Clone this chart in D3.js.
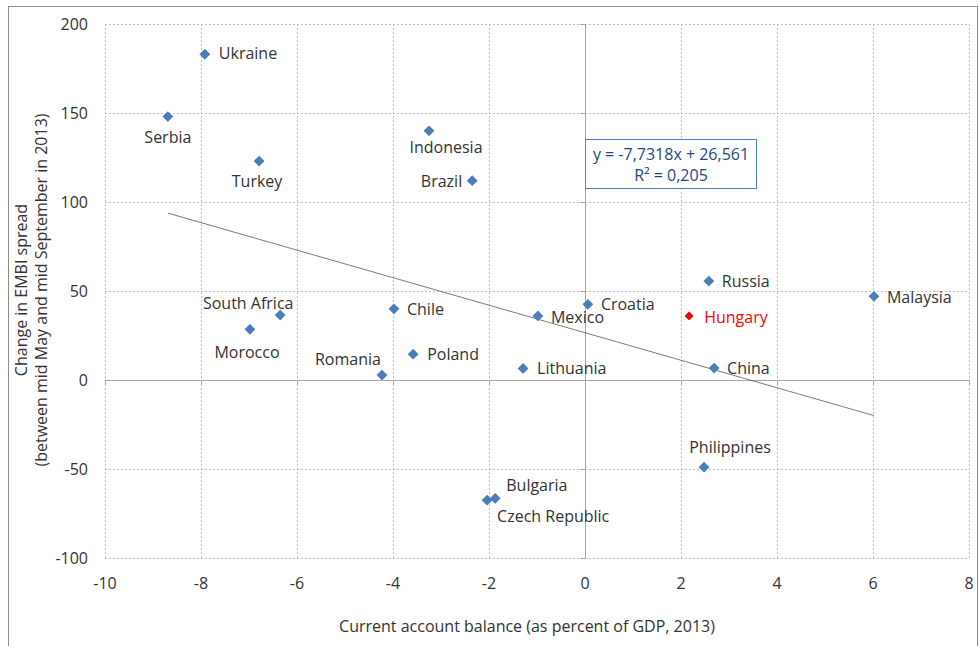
<!DOCTYPE html>
<html>
<head>
<meta charset="utf-8">
<script src="https://cdn.jsdelivr.net/npm/d3@7"></script>
<style>
  body { margin: 0; background: #fff; }
  text { font-family: "Open Sans", "Liberation Sans", sans-serif; fill: #333; }
</style>
</head>
<body>
<svg id="chart" width="979" height="646"></svg>
<script>
// data
var countries = ['Ukraine', 'Serbia', 'Turkey', 'Indonesia', 'Brazil', 'South Africa', 'Morocco',
  'Chile', 'Poland', 'Romania', 'Lithuania', 'Mexico', 'Croatia', 'Russia', 'Hungary',
  'Malaysia', 'China', 'Philippines', 'Bulgaria', 'Czech Republic'];
var currentAccount = [-7.92, -8.69, -6.79, -3.25, -2.35, -6.35, -6.98,
  -3.98, -3.58, -4.23, -1.29, -0.98, 0.06, 2.58, 2.17,
  6.02, 2.69, 2.48, -1.87, -2.04];
var spreadChange = [183, 148, 123, 140, 112, 36.5, 28.5,
  40, 14.5, 2.8, 6.5, 36, 42.5, 55.6, 36,
  47, 6.7, -49, -66.5, -67.5];
var highlighted = ['Hungary'];

var xTicks = [-10, -8, -6, -4, -2, 0, 2, 4, 6, 8];
var yTicks = [-100, -50, 0, 50, 100, 150, 200];

var trendSlope = -7.7318;
var trendIntercept = 26.561;
var trendRange = [-8.69, 6.02];
var rSquared = 0.205;

// label placement relative to marker (dx, dy, anchor)
var labelPos = {
  'Ukraine': [14, 0, 'start'],
  'Serbia': [0, 21, 'middle'],
  'Turkey': [-2, 21, 'middle'],
  'Indonesia': [17, 17, 'middle'],
  'Brazil': [-10, 1, 'end'],
  'South Africa': [-32, -11, 'middle'],
  'Morocco': [-3, 24, 'middle'],
  'Chile': [13, 1, 'start'],
  'Poland': [14, 1, 'start'],
  'Romania': [-34, -15, 'middle'],
  'Lithuania': [14, 1, 'start'],
  'Mexico': [13, 2, 'start'],
  'Croatia': [13, 1, 'start'],
  'Russia': [13, 1, 'start'],
  'Hungary': [15, 2, 'start'],
  'Malaysia': [13, 2, 'start'],
  'China': [13, 1, 'start'],
  'Philippines': [26, -19, 'middle'],
  'Bulgaria': [11, -12, 'start'],
  'Czech Republic': [10, 17, 'start']
};

var fmt = function (v, d) { return v.toFixed(d).replace('.', ','); };

var svg = d3.select('#chart');
var margin = { left: 105, right: 10, top: 24, bottom: 88 };
var width = 969 - margin.left;
var height = 558 - margin.top;

// outer frame
svg.append('rect')
  .attr('x', 8.5).attr('y', 6.5).attr('width', 969).attr('height', 660)
  .attr('fill', 'none').attr('stroke', '#8c8c8c').attr('stroke-width', 1);

var g = svg.append('g').attr('transform', 'translate(' + margin.left + ',' + margin.top + ')');

var x = d3.scaleLinear().domain([-10, 8]).range([0, width]);
var y = d3.scaleLinear().domain([-100, 200]).range([height, 0]);

// dashed grid
g.append('g')
  .selectAll('line.vg').data(xTicks).join('line')
  .attr('x1', function (d) { return Math.round(x(d)) + 0.5; })
  .attr('x2', function (d) { return Math.round(x(d)) + 0.5; })
  .attr('y1', 0).attr('y2', height)
  .attr('stroke', '#bfbfbf').attr('stroke-dasharray', '2,2');
g.append('g')
  .selectAll('line.hg').data(yTicks).join('line')
  .attr('y1', function (d) { return Math.round(y(d)) + 0.5; })
  .attr('y2', function (d) { return Math.round(y(d)) + 0.5; })
  .attr('x1', 0).attr('x2', width)
  .attr('stroke', '#bfbfbf').attr('stroke-dasharray', '2,2');

// zero axes
var xAxis = d3.axisBottom(x).tickValues(xTicks).tickSize(5).tickFormat('');
var gx = g.append('g').attr('transform', 'translate(0,' + Math.round(y(0)) + ')').call(xAxis);
var yAxis = d3.axisLeft(y).tickValues(yTicks).tickSize(5).tickFormat('');
var gy = g.append('g').attr('transform', 'translate(' + Math.round(x(0)) + ',0)').call(yAxis);
[gx, gy].forEach(function (a) {
  a.selectAll('path, line').attr('stroke', '#a6a6a6');
});
gy.select('.domain').attr('d', 'M0.5,' + height + 'V0');
gx.select('.domain').attr('d', 'M0,0.5H' + width);

// tick labels along the plot edges
g.append('g').selectAll('text').data(xTicks).join('text')
  .attr('x', function (d) { return x(d); })
  .attr('y', height + 31)
  .attr('text-anchor', 'middle')
  .style('font-size', '16px')
  .text(function (d) { return d; });
g.append('g').selectAll('text').data(yTicks).join('text')
  .attr('x', -17)
  .attr('y', function (d) { return y(d) + 6; })
  .attr('text-anchor', 'end')
  .style('font-size', '16px')
  .text(function (d) { return d; });

// trend line
g.append('line')
  .attr('x1', x(trendRange[0])).attr('y1', y(trendSlope * trendRange[0] + trendIntercept))
  .attr('x2', x(trendRange[1])).attr('y2', y(trendSlope * trendRange[1] + trendIntercept))
  .attr('stroke', '#595959').attr('stroke-width', 0.8);

// points
var points = countries.map(function (c, i) {
  return { name: c, x: currentAccount[i], y: spreadChange[i] };
});
var isHi = function (d) { return highlighted.indexOf(d.name) >= 0; };

g.append('g').selectAll('path').data(points).join('path')
  .attr('d', function (d) { return d3.symbol().type(d3.symbolSquare).size(isHi(d) ? 34 : 58)(); })
  .attr('transform', function (d) { return 'translate(' + x(d.x) + ',' + y(d.y) + ') rotate(45)'; })
  .attr('fill', function (d) { return isHi(d) ? '#ff0000' : '#4a7ebb'; })
  .attr('stroke', function (d) { return isHi(d) ? '#8b0000' : 'none'; })
  .attr('stroke-width', 0.6);

g.append('g').selectAll('text').data(points).join('text')
  .attr('x', function (d) { return x(d.x) + labelPos[d.name][0]; })
  .attr('y', function (d) { return y(d.y) + labelPos[d.name][1] + 5; })
  .attr('text-anchor', function (d) { return labelPos[d.name][2]; })
  .style('font-size', '16px')
  .style('fill', function (d) { return isHi(d) ? '#ff0000' : '#333'; })
  .text(function (d) { return d.name; });

// equation box
var eq = g.append('g').attr('transform', 'translate(' + (585 - margin.left) + ',' + (139 - margin.top) + ')');
eq.append('rect')
  .attr('x', 0.5).attr('y', 0.5).attr('width', 171).attr('height', 49)
  .attr('fill', '#fff').attr('stroke', '#4f81bd');
eq.append('text')
  .attr('x', 86).attr('y', 21).attr('text-anchor', 'middle')
  .style('font-size', '16px').style('fill', '#1f497d')
  .text('y = ' + fmt(trendSlope, 4) + 'x + ' + fmt(trendIntercept, 3));
eq.append('text')
  .attr('x', 86).attr('y', 42).attr('text-anchor', 'middle')
  .style('font-size', '16px').style('fill', '#1f497d')
  .text('R² = ' + fmt(rSquared, 3));

// axis titles
svg.append('text')
  .attr('x', 527).attr('y', 632)
  .attr('text-anchor', 'middle')
  .style('font-size', '16px')
  .text('Current account balance (as percent of GDP, 2013)');

var yt = svg.append('text')
  .attr('transform', 'translate(27,' + 290 + ') rotate(-90)')
  .attr('text-anchor', 'middle')
  .style('font-size', '16px');
yt.append('tspan').attr('x', 0).attr('dy', 0).text('Change in EMBI spread');
yt.append('tspan').attr('x', 0).attr('dy', 20).text('(between mid May and mid September in 2013)');
</script>
</body>
</html>
